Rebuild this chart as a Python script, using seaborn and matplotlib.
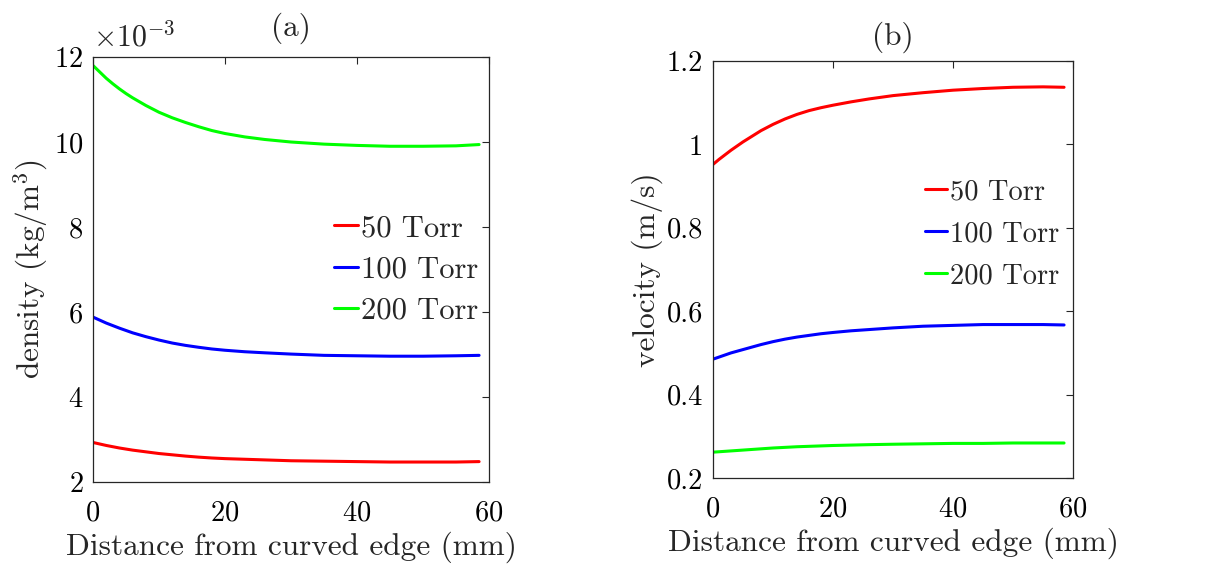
import numpy as np
import pandas as pd
import matplotlib
matplotlib.use("Agg")
import matplotlib.pyplot as plt
import seaborn as sns

# ---- data ----
distance = [0, 1, 2, 3, 4, 5, 6, 7, 8, 10, 12, 14, 16, 18, 20, 23, 26, 30, 35, 40, 45, 50, 55, 58.5]
series_names = ["50 Torr", "100 Torr", "200 Torr"]

density_50 = [2.93, 2.895, 2.86, 2.83, 2.80, 2.775, 2.75, 2.73, 2.71, 2.67, 2.64, 2.61, 2.585, 2.565, 2.55, 2.535, 2.52, 2.50, 2.49, 2.48, 2.47, 2.47, 2.47, 2.48]
density_100 = [5.88, 5.81, 5.74, 5.68, 5.62, 5.565, 5.51, 5.465, 5.42, 5.34, 5.27, 5.215, 5.17, 5.13, 5.10, 5.065, 5.04, 5.01, 4.98, 4.97, 4.96, 4.96, 4.97, 4.98]
density_200 = [11.80, 11.65, 11.50, 11.37, 11.25, 11.14, 11.04, 10.95, 10.86, 10.70, 10.57, 10.46, 10.36, 10.27, 10.20, 10.12, 10.06, 10.00, 9.95, 9.92, 9.90, 9.90, 9.91, 9.94]

velocity_50 = [0.952, 0.964, 0.975, 0.986, 0.996, 1.006, 1.015, 1.024, 1.033, 1.048, 1.061, 1.072, 1.081, 1.088, 1.094, 1.102, 1.109, 1.117, 1.124, 1.130, 1.134, 1.137, 1.138, 1.137]
velocity_100 = [0.485, 0.490, 0.495, 0.500, 0.504, 0.508, 0.512, 0.516, 0.520, 0.527, 0.533, 0.538, 0.542, 0.546, 0.549, 0.553, 0.556, 0.560, 0.564, 0.566, 0.568, 0.568, 0.568, 0.567]
velocity_200 = [0.262, 0.263, 0.264, 0.265, 0.266, 0.267, 0.268, 0.269, 0.270, 0.272, 0.2735, 0.275, 0.276, 0.277, 0.278, 0.279, 0.280, 0.281, 0.282, 0.283, 0.283, 0.284, 0.284, 0.284]

x_ticks = [0, 20, 40, 60]
density_ticks = [2, 4, 6, 8, 10, 12]
velocity_ticks = [0.2, 0.4, 0.6, 0.8, 1.0, 1.2]
velocity_ticklabels = ["0.2", "0.4", "0.6", "0.8", "1", "1.2"]
colors = ["#ff0000", "#0000ff", "#00ff00"]

def long_frame(vals):
    rows = []
    for name, v in zip(series_names, vals):
        for d, y in zip(distance, v):
            rows.append({"distance": d, "value": y, "series": name})
    return pd.DataFrame(rows)

df_density = long_frame([density_50, density_100, density_200])
df_velocity = long_frame([velocity_50, velocity_100, velocity_200])

sns.set_style("white")
plt.rcParams["font.family"] = ["serif"]
plt.rcParams["font.serif"] = ["cmr10", "DejaVu Serif"]
plt.rcParams["mathtext.fontset"] = "cm"
plt.rcParams["axes.formatter.use_mathtext"] = True
plt.rcParams["axes.unicode_minus"] = False

fig = plt.figure(figsize=(12.05, 5.69), dpi=100)
ax1 = fig.add_axes([0.0772, 0.1529, 0.3286, 0.7469])
ax2 = fig.add_axes([0.5917, 0.1599, 0.2988, 0.7329])

tick_fs = 20.5
label_fs = 22.5
spine_col = "#262626"

for ax, df in ((ax1, df_density), (ax2, df_velocity)):
    sns.lineplot(data=df, x="distance", y="value", hue="series",
                 palette=colors, linewidth=2.2, ax=ax, legend=True)
    ax.set_xlim(0, 60)
    ax.set_xticks(x_ticks)
    ax.tick_params(direction="in", length=5, width=0.8, top=True, right=True,
                   labelsize=tick_fs, colors=spine_col)
    ax.tick_params(axis="x", pad=13)
    ax.tick_params(axis="y", pad=7)
    for lbl in ax.get_xticklabels() + ax.get_yticklabels():
        lbl.set_color("#000000")
    for s in ax.spines.values():
        s.set_color(spine_col)
        s.set_linewidth(0.9)
    ax.set_xlabel("Distance from curved edge (mm)", fontsize=label_fs, labelpad=4)

ax1.set_ylim(2, 12)
ax1.set_yticks(density_ticks)
ax1.set_ylabel("density (kg/m$^3$)", fontsize=label_fs, labelpad=3)
ax1.set_title("(a)", fontsize=label_fs, pad=15)
ax1.text(0.0, 1.012, r"$\times10^{-3}$", transform=ax1.transAxes,
         fontsize=tick_fs + 1, ha="left", va="bottom")

ax2.set_ylim(0.2, 1.2)
ax2.set_yticks(velocity_ticks)
ax2.set_yticklabels(velocity_ticklabels)
ax2.set_ylabel("velocity (m/s)", fontsize=label_fs, labelpad=3)
ax2.set_title("(b)", fontsize=label_fs, pad=12)

for ax, anchor, lfs in ((ax1, (1.02, 0.50), 22), (ax2, (1.01, 0.585), 20.5)):
    h, l = ax.get_legend_handles_labels()
    ax.legend(h, l, loc="center right", bbox_to_anchor=anchor, frameon=False,
              fontsize=lfs, handlelength=0.8, handletextpad=0.1,
              labelspacing=0.45 if ax is ax1 else 0.55, borderaxespad=0.2)

fig.savefig("out.png", dpi=100)
